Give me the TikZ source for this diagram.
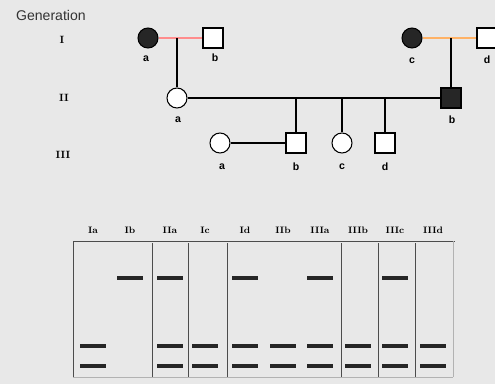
\documentclass[tikz,border=0pt]{standalone}
\usepackage{fontspec}
\newfontfamily\gensans{Liberation Sans}
\usetikzlibrary{positioning}

\begin{document}
\begin{tikzpicture}
		[x=0.03cm,y=-0.03cm,
		fem/.style={draw,circle,line width=0.9pt,minimum size=0.6cm,inner sep=0pt},
		male/.style={draw,rectangle,line width=0.9pt,minimum size=0.6cm,inner sep=0pt},
		tag/.style={font=\gensans\bfseries\small,inner sep=1pt},
		gen/.style={font=\bfseries\small},
		lane/.style={font=\bfseries\footnotesize},
		band/.style={fill=black!85,minimum width=0.78cm,minimum height=0.11cm,inner sep=0pt},
		sep/.style={line width=0.6pt,black!70}]
		\def \up {278}
		\def \lo {346}
		\def \lt {366}
		% background
		\fill[black!9] (0,0) rectangle (495,384);
		\useasboundingbox (0,0) rectangle (495,384);
		
		\node[font=\gensans\large,text=black!80,anchor=west] (title) at (12,15) {Generation};
		\node[gen] (g1) at (62,40) {I};
		\node[gen] (g2) at (64,98) {II};
		\node[gen] (g3) at (63,155) {III};
		
		% generation I
		\node[fem,fill=black!85] (Ia) at (148,38) {};
		\node[male,fill=white] (Ib) at (213,38) {};
		\node[fem,fill=black!85] (Ic) at (412,38) {};
		\node[male,fill=white] (Id) at (487,38) {};
		\node[tag] at (146,59) {a};
		\node[tag] at (215,58) {b};
		\node[tag] at (412,61) {c};
		\node[tag] at (487,60) {d};
		
		% generation II
		\node[fem,fill=white] (IIa) at (177,98) {};
		\node[male,fill=black!85] (IIb) at (451,98) {};
		\node[tag] at (178,120) {a};
		\node[tag] at (452,120) {b};
		
		% generation III
		\node[fem,fill=white] (IIIa) at (220,143) {};
		\node[male,fill=white] (IIIb) at (296,143) {};
		\node[fem,fill=white] (IIIc) at (342,143) {};
		\node[male,fill=white] (IIId) at (385,143) {};
		\node[tag] at (222,167) {a};
		\node[tag] at (296,167) {b};
		\node[tag] at (342,167) {c};
		\node[tag] at (385,167) {d};
		
		\draw[line width=1pt,red!45] (Ia) -- (Ib);
		\draw[line width=1pt,orange!60] (Ic) -- (Id);
		\draw[line width=0.9pt] (IIa.north) -- (IIa.north |- Ia.east);
		\draw[line width=0.9pt] (IIb.north) -- (IIb.north |- Ic.east);
		\draw[line width=0.9pt] (IIa) -- (IIb);
		\draw[line width=1.3pt] (IIIa) -- (IIIb);
		\draw[line width=0.9pt] (IIIb.north) -- (IIIb.north |- IIa.east);
		\draw[line width=0.9pt] (IIIc.north) -- (IIIc.north |- IIa.east);
		\draw[line width=0.9pt] (IIId.north) -- (IIId.north |- IIa.east);
		
		% gel
		\draw[sep] (73,241) -- (455,241);
		\draw[sep] (73,241) -- (73,377);
		\draw[sep,black!30] (453,241) -- (453,377);
		\draw[sep,black!30] (73,377) -- (453,377);
		\foreach \x in {152,188,227,341,378,415}
			\draw[sep] (\x,243) -- (\x,377);
		\foreach \lab/\x/\hi/\two in {Ia/93/0/1,Ib/130/1/0,IIa/170/1/1,Ic/205/0/1,Id/245/1/1,
			IIb/283/0/1,IIIa/320/1/1,IIIb/358/0/1,IIIc/395/1/1,IIId/433/0/1}{
			\node[lane] (l-\lab) at (\x,230) {\lab};
			\ifnum\hi=1 \node[band] (u-\lab) at (\x,\up) {}; \fi
			\ifnum\two=1
				\node[band] (m-\lab) at (\x,\lo) {};
				\node[band] (d-\lab) at (\x,\lt) {};
			\fi
		}
		\end{tikzpicture}
\end{document}
